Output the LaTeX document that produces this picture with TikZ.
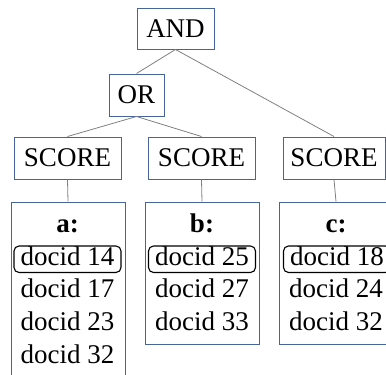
\documentclass[tikz,border=0pt]{standalone}
\usepackage{fontspec}
\setmainfont{Liberation Serif}
\definecolor{boxblue}{RGB}{72,100,158}
\definecolor{linkgray}{RGB}{128,128,128}
\begin{document}
\begin{tikzpicture}[x=1pt,y=-1pt,
  font=\fontsize{27}{30}\selectfont,
  opbox/.style={draw=boxblue,line width=1pt,rectangle,inner sep=0pt,minimum height=42pt},
  listbox/.style={draw=boxblue,line width=1pt,rectangle,inner sep=0pt,minimum width=114pt},
  entry/.style={inner sep=0pt,anchor=base},
  firstentry/.style={draw=black,line width=1.1pt,rounded corners=5pt,inner sep=0pt,anchor=base,
    text height=19pt,text depth=7.5pt,minimum width=107pt},
  link/.style={draw=linkgray,line width=0.8pt}]
\useasboundingbox (0,0) rectangle (386,375);

% operator tree
\node[opbox,minimum width=77pt,minimum height=41pt] (and) at (175.5,28.5) {AND};
\node[opbox,minimum width=55pt] (or) at (136.5,95) {OR};
\node[opbox,minimum width=107pt] (sa) at (67.5,158) {SCORE};
\node[opbox,minimum width=107pt] (sb) at (201.5,158) {SCORE};
\node[opbox,minimum width=102pt] (sc) at (334,158) {SCORE};

% posting lists
\node[listbox,minimum height=198pt] (la) at (68,301) {};
\node[listbox,minimum height=142pt] (lb) at (202,273) {};
\node[listbox,minimum height=142pt] (lc) at (336,273) {};

\node[entry] (ta) at (67.5,232.5) {\textbf{a:}};
\node[firstentry] (a1) at (67.5,265) {docid 14};
\node[entry] (a2) at (67.5,297.5) {docid 17};
\node[entry] (a3) at (67.5,330.5) {docid 23};
\node[entry] (a4) at (67.5,363) {docid 32};

\node[entry] (tb) at (202,232.5) {\textbf{b:}};
\node[firstentry] (b1) at (202,265) {docid 25};
\node[entry] (b2) at (202,297.5) {docid 27};
\node[entry] (b3) at (202,330.5) {docid 33};

\node[entry] (tc) at (336,232.5) {\textbf{c:}};
\node[firstentry] (c1) at (337,265) {docid 18};
\node[entry] (c2) at (336,297.5) {docid 24};
\node[entry] (c3) at (336,330.5) {docid 32};

% connectors
\draw[link] (and.south) -- (or.north);
\draw[link] (and.south) -- (sc.north);
\draw[link] (or.south) -- (sa.north);
\draw[link] (or.south) -- (sb.north);
\draw[link] (sa.south) -- (la.north);
\draw[link] (sb.south) -- (lb.north);
\draw[link] (sc.south) -- (lc.north);
\end{tikzpicture}
\end{document}
